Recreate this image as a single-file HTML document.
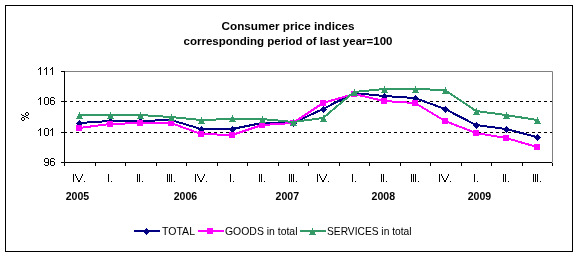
<!DOCTYPE html>
<html><head><meta charset="utf-8"><style>
html,body{margin:0;padding:0;background:#fff;}
svg{display:block;will-change:transform;}
.t{font-family:"Liberation Sans",sans-serif;font-size:11px;fill:#000;}
.tb{font-family:"Liberation Sans",sans-serif;font-size:11px;font-weight:bold;fill:#000;}
.tb2{font-family:"Liberation Sans",sans-serif;font-size:11px;font-weight:bold;fill:#000;}
</style></head><body>
<svg width="578" height="256" viewBox="0 0 578 256">
<rect x="5.5" y="5.5" width="567" height="246" fill="#fff" stroke="#000" stroke-width="1"/>
<text x="288" y="30" text-anchor="middle" class="tb" textLength="133" lengthAdjust="spacingAndGlyphs">Consumer price indices</text>
<text x="288" y="45" text-anchor="middle" class="tb" textLength="209" lengthAdjust="spacingAndGlyphs">corresponding period of last year=100</text>
<path d="M64.5 71.5 H552.5 V162.5" fill="none" stroke="#808080" stroke-width="1"/>
<path d="M64 101.5 H552" stroke="#000" stroke-width="1" stroke-dasharray="3,3"/>
<path d="M64 132.5 H552" stroke="#000" stroke-width="1" stroke-dasharray="3,3"/>
<path d="M64.5 71 V162.5 H552" fill="none" stroke="#000" stroke-width="1"/>
<path d="M61 71.5 H64.5" stroke="#000" stroke-width="1"/>
<path d="M61 101.5 H64.5" stroke="#000" stroke-width="1"/>
<path d="M61 132.5 H64.5" stroke="#000" stroke-width="1"/>
<path d="M61 162.5 H64.5" stroke="#000" stroke-width="1"/>
<path d="M40 67h1v1h-1zM39 68h1v1h-1zM40 68h1v1h-1zM38 69h1v1h-1zM40 69h1v1h-1zM40 70h1v1h-1zM40 71h1v1h-1zM40 72h1v1h-1zM40 73h1v1h-1zM40 74h1v1h-1zM46 67h1v1h-1zM45 68h1v1h-1zM46 68h1v1h-1zM44 69h1v1h-1zM46 69h1v1h-1zM46 70h1v1h-1zM46 71h1v1h-1zM46 72h1v1h-1zM46 73h1v1h-1zM46 74h1v1h-1zM52 67h1v1h-1zM51 68h1v1h-1zM52 68h1v1h-1zM50 69h1v1h-1zM52 69h1v1h-1zM52 70h1v1h-1zM52 71h1v1h-1zM52 72h1v1h-1zM52 73h1v1h-1zM52 74h1v1h-1zM40 97h1v1h-1zM39 98h1v1h-1zM40 98h1v1h-1zM38 99h1v1h-1zM40 99h1v1h-1zM40 100h1v1h-1zM40 101h1v1h-1zM40 102h1v1h-1zM40 103h1v1h-1zM40 104h1v1h-1zM45 97h1v1h-1zM46 97h1v1h-1zM47 97h1v1h-1zM44 98h1v1h-1zM48 98h1v1h-1zM44 99h1v1h-1zM48 99h1v1h-1zM44 100h1v1h-1zM48 100h1v1h-1zM44 101h1v1h-1zM48 101h1v1h-1zM44 102h1v1h-1zM48 102h1v1h-1zM44 103h1v1h-1zM48 103h1v1h-1zM45 104h1v1h-1zM46 104h1v1h-1zM47 104h1v1h-1zM51 97h1v1h-1zM52 97h1v1h-1zM53 97h1v1h-1zM50 98h1v1h-1zM54 98h1v1h-1zM50 99h1v1h-1zM50 100h1v1h-1zM51 100h1v1h-1zM52 100h1v1h-1zM53 100h1v1h-1zM50 101h1v1h-1zM54 101h1v1h-1zM50 102h1v1h-1zM54 102h1v1h-1zM50 103h1v1h-1zM54 103h1v1h-1zM51 104h1v1h-1zM52 104h1v1h-1zM53 104h1v1h-1zM40 128h1v1h-1zM39 129h1v1h-1zM40 129h1v1h-1zM38 130h1v1h-1zM40 130h1v1h-1zM40 131h1v1h-1zM40 132h1v1h-1zM40 133h1v1h-1zM40 134h1v1h-1zM40 135h1v1h-1zM45 128h1v1h-1zM46 128h1v1h-1zM47 128h1v1h-1zM44 129h1v1h-1zM48 129h1v1h-1zM44 130h1v1h-1zM48 130h1v1h-1zM44 131h1v1h-1zM48 131h1v1h-1zM44 132h1v1h-1zM48 132h1v1h-1zM44 133h1v1h-1zM48 133h1v1h-1zM44 134h1v1h-1zM48 134h1v1h-1zM45 135h1v1h-1zM46 135h1v1h-1zM47 135h1v1h-1zM52 128h1v1h-1zM51 129h1v1h-1zM52 129h1v1h-1zM50 130h1v1h-1zM52 130h1v1h-1zM52 131h1v1h-1zM52 132h1v1h-1zM52 133h1v1h-1zM52 134h1v1h-1zM52 135h1v1h-1zM45 158h1v1h-1zM46 158h1v1h-1zM47 158h1v1h-1zM44 159h1v1h-1zM48 159h1v1h-1zM44 160h1v1h-1zM48 160h1v1h-1zM44 161h1v1h-1zM48 161h1v1h-1zM45 162h1v1h-1zM46 162h1v1h-1zM47 162h1v1h-1zM48 162h1v1h-1zM48 163h1v1h-1zM44 164h1v1h-1zM48 164h1v1h-1zM45 165h1v1h-1zM46 165h1v1h-1zM47 165h1v1h-1zM51 158h1v1h-1zM52 158h1v1h-1zM53 158h1v1h-1zM50 159h1v1h-1zM54 159h1v1h-1zM50 160h1v1h-1zM50 161h1v1h-1zM51 161h1v1h-1zM52 161h1v1h-1zM53 161h1v1h-1zM50 162h1v1h-1zM54 162h1v1h-1zM50 163h1v1h-1zM54 163h1v1h-1zM50 164h1v1h-1zM54 164h1v1h-1zM51 165h1v1h-1zM52 165h1v1h-1zM53 165h1v1h-1z" fill="#000" shape-rendering="crispEdges"/>
<path d="M64.5 163 V166" stroke="#000" stroke-width="1"/>
<path d="M95.5 163 V166" stroke="#000" stroke-width="1"/>
<path d="M125.5 163 V166" stroke="#000" stroke-width="1"/>
<path d="M156.5 163 V166" stroke="#000" stroke-width="1"/>
<path d="M186.5 163 V166" stroke="#000" stroke-width="1"/>
<path d="M217.5 163 V166" stroke="#000" stroke-width="1"/>
<path d="M247.5 163 V166" stroke="#000" stroke-width="1"/>
<path d="M278.5 163 V166" stroke="#000" stroke-width="1"/>
<path d="M308.5 163 V166" stroke="#000" stroke-width="1"/>
<path d="M339.5 163 V166" stroke="#000" stroke-width="1"/>
<path d="M369.5 163 V166" stroke="#000" stroke-width="1"/>
<path d="M400.5 163 V166" stroke="#000" stroke-width="1"/>
<path d="M430.5 163 V166" stroke="#000" stroke-width="1"/>
<path d="M461.5 163 V166" stroke="#000" stroke-width="1"/>
<path d="M491.5 163 V166" stroke="#000" stroke-width="1"/>
<path d="M522.5 163 V166" stroke="#000" stroke-width="1"/>
<path d="M552.5 163 V166" stroke="#000" stroke-width="1"/>
<path d="M73 174h1v8h-1zM75 174h1v2h-1zM82 174h1v2h-1zM76 176h1v2h-1zM81 176h1v2h-1zM77 178h1v2h-1zM80 178h1v2h-1zM78 180h1v2h-1zM79 180h1v2h-1zM84 181h1v1h-1zM108 174h1v8h-1zM111 181h1v1h-1zM137 174h1v8h-1zM139 174h1v8h-1zM142 181h1v1h-1zM167 174h1v8h-1zM169 174h1v8h-1zM171 174h1v8h-1zM174 181h1v1h-1zM195 174h1v8h-1zM197 174h1v2h-1zM204 174h1v2h-1zM198 176h1v2h-1zM203 176h1v2h-1zM199 178h1v2h-1zM202 178h1v2h-1zM200 180h1v2h-1zM201 180h1v2h-1zM206 181h1v1h-1zM230 174h1v8h-1zM233 181h1v1h-1zM259 174h1v8h-1zM261 174h1v8h-1zM264 181h1v1h-1zM289 174h1v8h-1zM291 174h1v8h-1zM293 174h1v8h-1zM296 181h1v1h-1zM317 174h1v8h-1zM319 174h1v2h-1zM326 174h1v2h-1zM320 176h1v2h-1zM325 176h1v2h-1zM321 178h1v2h-1zM324 178h1v2h-1zM322 180h1v2h-1zM323 180h1v2h-1zM328 181h1v1h-1zM352 174h1v8h-1zM355 181h1v1h-1zM381 174h1v8h-1zM383 174h1v8h-1zM386 181h1v1h-1zM411 174h1v8h-1zM413 174h1v8h-1zM415 174h1v8h-1zM418 181h1v1h-1zM439 174h1v8h-1zM441 174h1v2h-1zM448 174h1v2h-1zM442 176h1v2h-1zM447 176h1v2h-1zM443 178h1v2h-1zM446 178h1v2h-1zM444 180h1v2h-1zM445 180h1v2h-1zM450 181h1v1h-1zM474 174h1v8h-1zM477 181h1v1h-1zM503 174h1v8h-1zM505 174h1v8h-1zM508 181h1v1h-1zM533 174h1v8h-1zM535 174h1v8h-1zM537 174h1v8h-1zM540 181h1v1h-1z" fill="#000" shape-rendering="crispEdges"/>
<text x="77.5" y="200" text-anchor="middle" class="tb2" textLength="23.5" lengthAdjust="spacingAndGlyphs">2005</text>
<text x="185.5" y="200" text-anchor="middle" class="tb2" textLength="23.5" lengthAdjust="spacingAndGlyphs">2006</text>
<text x="287.3" y="200" text-anchor="middle" class="tb2" textLength="23.5" lengthAdjust="spacingAndGlyphs">2007</text>
<text x="383.3" y="200" text-anchor="middle" class="tb2" textLength="23.5" lengthAdjust="spacingAndGlyphs">2008</text>
<text x="479.5" y="200" text-anchor="middle" class="tb2" textLength="23.5" lengthAdjust="spacingAndGlyphs">2009</text>
<path d="M26 112h1v1h-1zM27 112h1v1h-1zM25 113h1v1h-1zM28 113h1v1h-1zM25 114h1v1h-1zM28 114h1v1h-1zM26 115h1v1h-1zM27 115h1v1h-1zM22 117h1v1h-1zM23 117h1v1h-1zM21 118h1v1h-1zM24 118h1v1h-1zM21 119h1v1h-1zM24 119h1v1h-1zM22 120h1v1h-1zM23 120h1v1h-1zM21 114h1v1h-1zM22 115h1v1h-1zM23 115h1v1h-1zM24 116h1v1h-1zM25 116h1v1h-1zM26 117h1v1h-1zM27 117h1v1h-1zM28 118h1v1h-1z" fill="#000" shape-rendering="crispEdges"/>
<polyline points="79,123 110,121 140,121 171,120 201,129 232,129 262,123 293,123 323,109 354,93 384,96 415,98 445,109 476,125 506,129 537,137" fill="none" stroke="#000080" stroke-width="2" stroke-linejoin="round" shape-rendering="crispEdges"/>
<path d="M79.5 119.8 L83.2 123.5 L79.5 127.2 L75.8 123.5Z" fill="#000080" shape-rendering="crispEdges"/>
<path d="M110.5 117.8 L114.2 121.5 L110.5 125.2 L106.8 121.5Z" fill="#000080" shape-rendering="crispEdges"/>
<path d="M140.5 117.8 L144.2 121.5 L140.5 125.2 L136.8 121.5Z" fill="#000080" shape-rendering="crispEdges"/>
<path d="M171.5 116.8 L175.2 120.5 L171.5 124.2 L167.8 120.5Z" fill="#000080" shape-rendering="crispEdges"/>
<path d="M201.5 125.8 L205.2 129.5 L201.5 133.2 L197.8 129.5Z" fill="#000080" shape-rendering="crispEdges"/>
<path d="M232.5 125.8 L236.2 129.5 L232.5 133.2 L228.8 129.5Z" fill="#000080" shape-rendering="crispEdges"/>
<path d="M262.5 119.8 L266.2 123.5 L262.5 127.2 L258.8 123.5Z" fill="#000080" shape-rendering="crispEdges"/>
<path d="M293.5 119.8 L297.2 123.5 L293.5 127.2 L289.8 123.5Z" fill="#000080" shape-rendering="crispEdges"/>
<path d="M323.5 105.8 L327.2 109.5 L323.5 113.2 L319.8 109.5Z" fill="#000080" shape-rendering="crispEdges"/>
<path d="M354.5 89.8 L358.2 93.5 L354.5 97.2 L350.8 93.5Z" fill="#000080" shape-rendering="crispEdges"/>
<path d="M384.5 92.8 L388.2 96.5 L384.5 100.2 L380.8 96.5Z" fill="#000080" shape-rendering="crispEdges"/>
<path d="M415.5 94.8 L419.2 98.5 L415.5 102.2 L411.8 98.5Z" fill="#000080" shape-rendering="crispEdges"/>
<path d="M445.5 105.8 L449.2 109.5 L445.5 113.2 L441.8 109.5Z" fill="#000080" shape-rendering="crispEdges"/>
<path d="M476.5 121.8 L480.2 125.5 L476.5 129.2 L472.8 125.5Z" fill="#000080" shape-rendering="crispEdges"/>
<path d="M506.5 125.8 L510.2 129.5 L506.5 133.2 L502.8 129.5Z" fill="#000080" shape-rendering="crispEdges"/>
<path d="M537.5 133.8 L541.2 137.5 L537.5 141.2 L533.8 137.5Z" fill="#000080" shape-rendering="crispEdges"/>
<polyline points="79,128 110,124 140,123 171,123 201,134 232,135 262,125 293,123 323,103 354,94 384,101 415,103 445,121 476,133 506,138 537,147" fill="none" stroke="#FF00FF" stroke-width="2" stroke-linejoin="round" shape-rendering="crispEdges"/>
<rect x="76" y="125" width="6" height="6" fill="#FF00FF"/>
<rect x="107" y="121" width="6" height="6" fill="#FF00FF"/>
<rect x="137" y="120" width="6" height="6" fill="#FF00FF"/>
<rect x="168" y="120" width="6" height="6" fill="#FF00FF"/>
<rect x="198" y="131" width="6" height="6" fill="#FF00FF"/>
<rect x="229" y="132" width="6" height="6" fill="#FF00FF"/>
<rect x="259" y="122" width="6" height="6" fill="#FF00FF"/>
<rect x="290" y="120" width="6" height="6" fill="#FF00FF"/>
<rect x="320" y="100" width="6" height="6" fill="#FF00FF"/>
<rect x="351" y="91" width="6" height="6" fill="#FF00FF"/>
<rect x="381" y="98" width="6" height="6" fill="#FF00FF"/>
<rect x="412" y="100" width="6" height="6" fill="#FF00FF"/>
<rect x="442" y="118" width="6" height="6" fill="#FF00FF"/>
<rect x="473" y="130" width="6" height="6" fill="#FF00FF"/>
<rect x="503" y="135" width="6" height="6" fill="#FF00FF"/>
<rect x="534" y="144" width="6" height="6" fill="#FF00FF"/>
<polyline points="79,115 110,115 140,115 171,117 201,120 232,119 262,119 293,122 323,118 354,92 384,89 415,89 445,90 476,111 506,115 537,120" fill="none" stroke="#339966" stroke-width="2" stroke-linejoin="round" shape-rendering="crispEdges"/>
<path d="M79.5 112 L83 119 L76 119Z" fill="#339966" shape-rendering="crispEdges"/>
<path d="M110.5 112 L114 119 L107 119Z" fill="#339966" shape-rendering="crispEdges"/>
<path d="M140.5 112 L144 119 L137 119Z" fill="#339966" shape-rendering="crispEdges"/>
<path d="M171.5 114 L175 121 L168 121Z" fill="#339966" shape-rendering="crispEdges"/>
<path d="M201.5 117 L205 124 L198 124Z" fill="#339966" shape-rendering="crispEdges"/>
<path d="M232.5 115 L236 122 L229 122Z" fill="#339966" shape-rendering="crispEdges"/>
<path d="M262.5 116 L266 123 L259 123Z" fill="#339966" shape-rendering="crispEdges"/>
<path d="M293.5 119 L297 126 L290 126Z" fill="#339966" shape-rendering="crispEdges"/>
<path d="M323.5 115 L327 122 L320 122Z" fill="#339966" shape-rendering="crispEdges"/>
<path d="M354.5 89 L358 96 L351 96Z" fill="#339966" shape-rendering="crispEdges"/>
<path d="M384.5 86 L388 93 L381 93Z" fill="#339966" shape-rendering="crispEdges"/>
<path d="M415.5 86 L419 93 L412 93Z" fill="#339966" shape-rendering="crispEdges"/>
<path d="M445.5 87 L449 94 L442 94Z" fill="#339966" shape-rendering="crispEdges"/>
<path d="M476.5 108 L480 115 L473 115Z" fill="#339966" shape-rendering="crispEdges"/>
<path d="M506.5 112 L510 119 L503 119Z" fill="#339966" shape-rendering="crispEdges"/>
<path d="M537.5 117 L541 124 L534 124Z" fill="#339966" shape-rendering="crispEdges"/>
<path d="M134 231 H160" stroke="#000080" stroke-width="2"/>
<path d="M146.5 227.8 L150.2 231.5 L146.5 235.2 L142.8 231.5Z" fill="#000080" shape-rendering="crispEdges"/>
<text x="162" y="235" class="t" textLength="33" lengthAdjust="spacingAndGlyphs">TOTAL</text>
<path d="M198 231 H224" stroke="#FF00FF" stroke-width="2"/>
<rect x="207" y="228" width="6" height="6" fill="#FF00FF"/>
<text x="225" y="235" class="t" textLength="72.5" lengthAdjust="spacingAndGlyphs">GOODS in total</text>
<path d="M300 231 H326" stroke="#339966" stroke-width="2"/>
<path d="M312.5 228 L316 235 L309 235Z" fill="#339966" shape-rendering="crispEdges"/>
<text x="327" y="235" class="t" textLength="84.5" lengthAdjust="spacingAndGlyphs">SERVICES in total</text>
</svg>
</body></html>
